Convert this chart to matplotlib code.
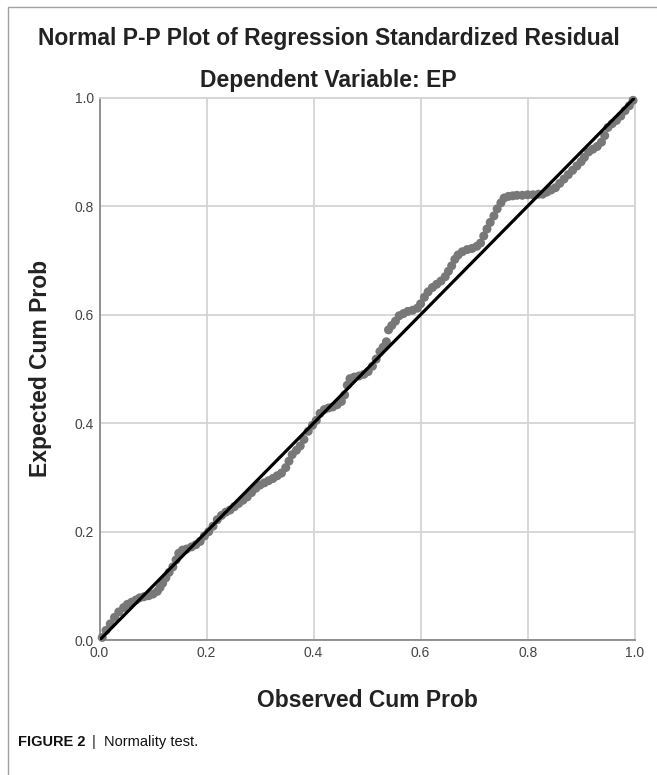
import matplotlib
matplotlib.use("Agg")
import matplotlib.pyplot as plt
from matplotlib.patches import Rectangle

# Observed vs expected cumulative probabilities
observed = [0.005, 0.012, 0.02, 0.028, 0.036, 0.045, 0.052, 0.06, 0.068, 0.075,
            0.083, 0.092, 0.1, 0.108, 0.113, 0.118, 0.124, 0.13, 0.137, 0.143,
            0.148, 0.155, 0.163, 0.172, 0.18, 0.188, 0.196, 0.204, 0.212, 0.22,
            0.228, 0.236, 0.244, 0.252, 0.26, 0.268, 0.276, 0.284, 0.292, 0.3,
            0.308, 0.316, 0.324, 0.332, 0.34, 0.348, 0.354, 0.36, 0.368, 0.375,
            0.382, 0.39, 0.398, 0.405, 0.412, 0.42, 0.428, 0.436, 0.444, 0.452,
            0.458, 0.463, 0.468, 0.476, 0.485, 0.494, 0.502, 0.51, 0.517, 0.524,
            0.53, 0.536, 0.54, 0.546, 0.553, 0.56, 0.568, 0.576, 0.585, 0.594,
            0.6, 0.607, 0.614, 0.622, 0.63, 0.638, 0.646, 0.652, 0.658, 0.664,
            0.67, 0.678, 0.687, 0.696, 0.705, 0.712, 0.718, 0.724, 0.73, 0.737,
            0.743, 0.75, 0.756, 0.764, 0.772, 0.78, 0.79, 0.8, 0.81, 0.82,
            0.828, 0.836, 0.844, 0.852, 0.86, 0.868, 0.876, 0.884, 0.892, 0.9,
            0.906, 0.914, 0.922, 0.93, 0.938, 0.944, 0.95, 0.958, 0.966, 0.974,
            0.982, 0.99, 0.997]
expected = [0.005, 0.018, 0.03, 0.042, 0.052, 0.06, 0.066, 0.07, 0.074, 0.078,
            0.08, 0.082, 0.085, 0.09, 0.097, 0.105, 0.115, 0.125, 0.135, 0.148,
            0.16, 0.166, 0.168, 0.172, 0.176, 0.182, 0.192, 0.2, 0.21, 0.222,
            0.23, 0.236, 0.24, 0.246, 0.252, 0.258, 0.264, 0.272, 0.28, 0.286,
            0.29, 0.294, 0.298, 0.303, 0.308, 0.318, 0.33, 0.342, 0.35, 0.358,
            0.37, 0.385, 0.396, 0.405, 0.418, 0.425, 0.428, 0.43, 0.434, 0.44,
            0.452, 0.47, 0.482, 0.485, 0.487, 0.49, 0.495, 0.505, 0.518, 0.532,
            0.54, 0.55, 0.572, 0.58, 0.588, 0.598, 0.602, 0.606, 0.608, 0.612,
            0.62, 0.632, 0.642, 0.65, 0.656, 0.662, 0.67, 0.68, 0.69, 0.702,
            0.71, 0.716, 0.72, 0.722, 0.726, 0.732, 0.745, 0.758, 0.77, 0.782,
            0.795, 0.806, 0.815, 0.818, 0.819, 0.82, 0.82, 0.821, 0.821, 0.822,
            0.822, 0.826, 0.83, 0.834, 0.842, 0.85, 0.858, 0.866, 0.874, 0.882,
            0.89, 0.9, 0.905, 0.91, 0.918, 0.93, 0.945, 0.952, 0.958, 0.966,
            0.976, 0.985, 0.995]
ref_line = [0.0, 1.0]
ticks = [0.0, 0.2, 0.4, 0.6, 0.8, 1.0]
tick_labels = ["0.0", "0.2", "0.4", "0.6", "0.8", "1.0"]

plt.rcParams["font.family"] = ["Liberation Sans", "DejaVu Sans"]

fig = plt.figure(figsize=(6.57, 7.75), dpi=100, facecolor="white")
ax = fig.add_axes([0.1515, 0.174, 0.8145, 0.7])

# outer frame of the figure panel (left/top visible only)
fig.patches.append(Rectangle((8 / 657, -0.02), 1.1, 1 - 7 / 775 + 0.02,
                             transform=fig.transFigure, fill=False,
                             edgecolor="#a0a0a0", linewidth=1.0))

ax.set_xlim(0, 1)
ax.set_ylim(0, 1)
ax.set_xticks(ticks)
ax.set_yticks(ticks)
ax.set_xticklabels(tick_labels)
ax.set_yticklabels(tick_labels)
ax.tick_params(length=0, labelsize=10, labelcolor="#444444", pad=4)
ax.grid(color="#d4d4d4", linewidth=1.3)
ax.set_axisbelow(True)
for side in ["top", "right"]:
    ax.spines[side].set_color("#d4d4d4")
    ax.spines[side].set_linewidth(1.3)
for side in ["left", "bottom"]:
    ax.spines[side].set_color("#8a8a8a")
    ax.spines[side].set_linewidth(1.3)

ax.scatter(observed, expected, s=42, color="#787878", edgecolors="none",
           zorder=3, clip_on=False)
ax.plot(ref_line, ref_line, color="black", linewidth=2.3, zorder=4,
        solid_capstyle="round")

fig.text(0.5, 1 - 39 / 775, "Normal P-P Plot of Regression Standardized Residual",
         ha="center", va="center", fontsize=16.5, fontweight="bold", color="#222222")
fig.text(0.5, 1 - 80 / 775, "Dependent Variable: EP",
         ha="center", va="center", fontsize=16.5, fontweight="bold", color="#222222")
ax.set_xlabel("Observed Cum Prob", fontsize=16.5, fontweight="bold",
              color="#222222", labelpad=21)
ax.set_ylabel("Expected Cum Prob", fontsize=16.5, fontweight="bold",
              color="#222222", labelpad=16)

# caption: bold figure number, then the plain text right after it
cap_y = 1 - 742 / 775
t1 = fig.text(18 / 657, cap_y, "FIGURE 2", ha="left", va="center",
              fontsize=10.5, fontweight="bold", color="#111111")
fig.canvas.draw()
bb = t1.get_window_extent(renderer=fig.canvas.get_renderer())
fig.text((bb.x1 + 2) / 657, cap_y, " |  Normality test.", ha="left", va="center",
         fontsize=10.5, color="#111111")

fig.savefig("out.png", dpi=100, facecolor="white")
